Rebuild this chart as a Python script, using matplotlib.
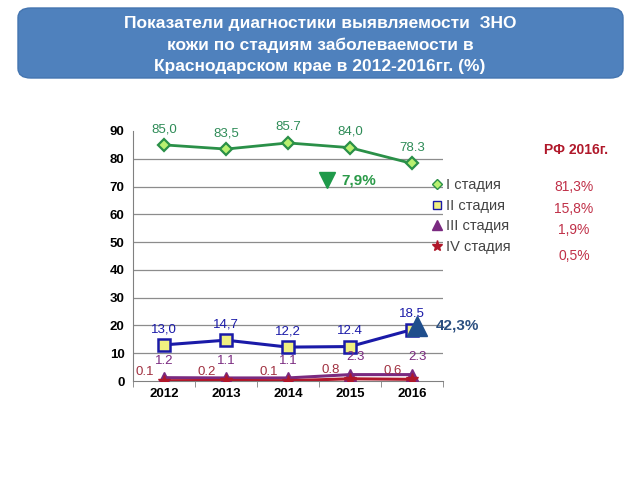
import numpy as np
import matplotlib.pyplot as plt
from matplotlib.patches import FancyBboxPatch
from matplotlib.lines import Line2D

plt.rcParams['font.family'] = ['Liberation Sans', 'DejaVu Sans']

years = ['2012', '2013', '2014', '2015', '2016']
stage1 = [85.0, 83.5, 85.7, 84.0, 78.3]
stage2 = [13.0, 14.7, 12.2, 12.4, 18.5]
stage3 = [1.2, 1.1, 1.1, 2.3, 2.3]
stage4 = [0.1, 0.2, 0.1, 0.8, 0.6]
lab1 = ['85,0', '83,5', '85.7', '84,0', '78.3']
lab2 = ['13,0', '14,7', '12,2', '12.4', '18.5']
lab3 = ['1.2', '1.1', '1.1', '2.3', '2.3']
lab4 = ['0.1', '0.2', '0.1', '0.8', '0.6']
legend_names = ['I стадия', 'II стадия', 'III стадия', 'IV стадия']
rf_values = ['81,3%', '15,8%', '1,9%', '0,5%']

fig = plt.figure(figsize=(6.4, 4.8), dpi=100)

# title box
box = FancyBboxPatch((18 / 640, 1 - 78 / 480), 605 / 640, 70 / 480,
                     boxstyle='round,pad=0,rounding_size=0.02',
                     transform=fig.transFigure, facecolor='#4f81bd',
                     edgecolor='#4475b0', lw=1)
fig.patches.append(box)
fig.text(0.5, 1 - 45 / 480,
         'Показатели диагностики выявляемости  ЗНО\nкожи по стадиям заболеваемости в\nКраснодарском крае в 2012-2016гг. (%)',
         ha='center', va='center', color='white', fontsize=12.5,
         fontweight='bold', linespacing=1.55)

ax = fig.add_axes([133 / 640, 1 - 381 / 480, 310 / 640, 250 / 480])
x = np.arange(len(years))
ax.set_xlim(-0.5, 4.5)
ax.set_ylim(0, 90)

for v in range(10, 90, 10):
    ax.axhline(v, color='#8c8c8c', lw=0.9, zorder=0)

c1, c2, c3, c4 = '#2a9048', '#1a1aa8', '#7a2a80', '#b0182a'
ax.plot(x, stage1, color=c1, lw=2.0, marker='D', ms=6, mfc='#b8f070',
        mec=c1, mew=1.6, zorder=3)
ax.plot(x, stage2, color=c2, lw=2.2, marker='s', ms=8, mfc='#f0f080',
        mec=c2, mew=1.8, zorder=3)
ax.plot(x, stage3, color=c3, lw=2.2, marker='^', ms=8, mfc=c3,
        mec=c3, zorder=3)
ax.plot(x, stage4, color=c4, lw=2.2, marker='*', ms=9, mfc=c4,
        mec=c4, zorder=4)

for i in x:
    ax.annotate(lab1[i], (i, stage1[i]), xytext=(0, 7), textcoords='offset points',
                ha='center', va='bottom', color='#2e8b57', fontsize=9.5)
    ax.annotate(lab2[i], (i, stage2[i]), xytext=(0, 7), textcoords='offset points',
                ha='center', va='bottom', color=c2, fontsize=9.5)
    ax.annotate(lab3[i], (i, stage3[i]), xytext=(4 if i >= 3 else 0, 8),
                textcoords='offset points',
                ha='center', va='bottom', color=c3, fontsize=9.5)
    ax.annotate(lab4[i], (i, stage4[i]), xytext=(-7, 2), textcoords='offset points',
                ha='right', va='bottom', color='#a03040', fontsize=9.5)

# change markers
ax.plot([2.63], [72.5], marker='v', ms=12, color='#1f9a4a', ls='none',
        clip_on=False, zorder=5)
ax.text(2.86, 72.3, '7,9%', color='#2a9a48', fontsize=11, fontweight='bold',
        va='center')
ax.plot([4.08], [19.8], marker='^', ms=14, color='#1f4e8c', ls='none',
        clip_on=False, zorder=5)
ax.text(4.38, 20.0, '42,3%', color='#2b4f80', fontsize=11, fontweight='bold',
        va='center', clip_on=False)

ax.set_xticks(x)
ax.set_xticklabels(years, fontweight='bold', fontsize=9.5)
ax.set_xticks(np.arange(-0.5, 5, 1), minor=True)
ax.tick_params(axis='x', which='major', length=0, pad=5)
ax.tick_params(axis='x', which='minor', length=4, color='#808080')
ax.set_yticks(range(0, 100, 10))
ax.set_yticklabels([str(v) for v in range(0, 100, 10)], fontweight='bold', fontsize=9.5)
ax.tick_params(axis='y', length=0, pad=6)
for s in ['top', 'right']:
    ax.spines[s].set_visible(False)
ax.spines['left'].set_color('#808080')
ax.spines['bottom'].set_color('#808080')
ax.patch.set_alpha(0)

handles = [
    Line2D([], [], color=c1, marker='D', ms=5, mfc='#b8f070', mec=c1, lw=0),
    Line2D([], [], color=c2, marker='s', ms=6, mfc='#f0f080', mec=c2, lw=0),
    Line2D([], [], color=c3, marker='^', ms=7, mfc=c3, mec=c3, lw=0),
    Line2D([], [], color=c4, marker='*', ms=8, mfc=c4, mec=c4, lw=0),
]
fig.legend(handles, legend_names, loc='upper left',
           bbox_to_anchor=(418 / 640, 1 - 165 / 480), frameon=False,
           fontsize=10.5, handlelength=0.8, handletextpad=0.2, labelspacing=0.45,
           labelcolor='#444444')

fig.text(576 / 640, 1 - 150 / 480, 'РФ 2016г.', ha='center', va='center',
         color='#b0182a', fontsize=10, fontweight='bold')
rf_y = [187, 209, 230, 256]
for val, yy in zip(rf_values, rf_y):
    fig.text(574 / 640, 1 - yy / 480, val, ha='center', va='center',
             color='#c03048', fontsize=10)

fig.savefig('out.png', dpi=100, facecolor='white')
